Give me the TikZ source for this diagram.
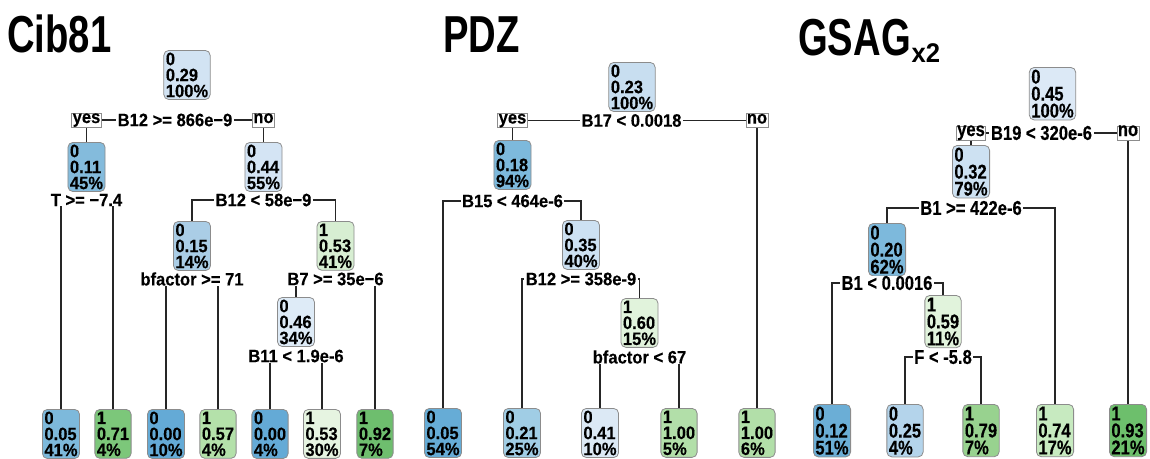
\documentclass[tikz,border=0pt]{standalone}
\usepackage{fontspec}
\newfontfamily\nf[FakeStretch=0.92,FakeBold=0.3]{Liberation Sans}
\newfontfamily\gf[FakeStretch=0.83,FakeBold=0.3]{Liberation Sans}
\newfontfamily\tf[FakeStretch=0.735]{Liberation Sans}
\newfontfamily\subf[FakeStretch=0.95]{Liberation Sans}
\usetikzlibrary{backgrounds}
% Cib81 colours
\definecolor{ca0}{HTML}{D2E3F3}\definecolor{ca1}{HTML}{84BBDC}\definecolor{ca2}{HTML}{D4E4F4}
\definecolor{ca3}{HTML}{AACDE6}\definecolor{ca4}{HTML}{D7EED2}\definecolor{ca5}{HTML}{DEEBF7}
\definecolor{ca6}{HTML}{7DB9DB}\definecolor{ca7}{HTML}{7CC77A}\definecolor{ca8}{HTML}{64AAD6}
\definecolor{ca9}{HTML}{B4E1AA}\definecolor{ca10}{HTML}{64AAD6}\definecolor{ca11}{HTML}{E6F4E1}
\definecolor{ca12}{HTML}{6EBE6E}
% PDZ colours
\definecolor{cb0}{HTML}{C8DEF0}\definecolor{cb1}{HTML}{7DB9DC}\definecolor{cb2}{HTML}{CDE1F2}
\definecolor{cb3}{HTML}{E1F3DC}\definecolor{cb4}{HTML}{66ACD6}\definecolor{cb5}{HTML}{A0CDE5}
\definecolor{cb6}{HTML}{DCE9F5}\definecolor{cb7}{HTML}{B2DFA9}\definecolor{cb8}{HTML}{B2DFA9}
% GSAG colours
\definecolor{cg0}{HTML}{DCE9F6}\definecolor{cg1}{HTML}{CDE1F2}\definecolor{cg2}{HTML}{7DB9DC}
\definecolor{cg3}{HTML}{E1F3DC}\definecolor{cg4}{HTML}{6BAED6}\definecolor{cg5}{HTML}{B4D4EB}
\definecolor{cg6}{HTML}{98D28F}\definecolor{cg7}{HTML}{C7EAC0}\definecolor{cg8}{HTML}{6DBF6C}
\begin{document}
\begin{tikzpicture}[x=1pt,y=-1pt,
  nfont/.style={font=\nf\bfseries\upshape\fontsize{18}{16}\selectfont},
  gfont/.style={font=\gf\bfseries\upshape\fontsize{20}{17}\selectfont},
  bx/.style={draw=black!45, line width=0.8pt, rounded corners=5pt, align=left,
             inner xsep=2pt, inner ysep=2.2pt, anchor=north},
  lb/.style={fill=white, inner xsep=1.5pt, inner ysep=0.3pt},
  yn/.style={draw=black!45, line width=0.8pt, fill=white, inner xsep=0.8pt,
             inner ysep=0.5pt, text height=9.5pt, text depth=3.4pt},
  ed/.style={draw=black!85, line width=1.3pt},
  ttl/.style={font=\tf\bfseries\upshape\fontsize{52}{52}\selectfont, anchor=base west, inner sep=0pt}]
\useasboundingbox (0,0) rectangle (1150,458);

% ---------------- Cib81 ----------------
\node[ttl] (t1) at (7,52) {Cib81};
\begin{scope}[nfont]
\node[bx, fill=ca0] (a0) at (187,50) {0\\0.29\\100\%};
\node[yn] (ay) at (86.5,120) {yes};
\node[yn] (an) at (263.5,120) {no};
\node[lb] (as0) at (175,120) {B12 >= 866e−9};
\node[bx, fill=ca1] (a1) at (86.5,142) {0\\0.11\\45\%};
\node[bx, fill=ca2] (a2) at (263.5,142) {0\\0.44\\55\%};
\node[lb] (as1) at (86.5,200) {T >= −7.4};
\node[lb] (as2) at (263.5,200) {B12 < 58e−9};
\node[bx, fill=ca3] (a3) at (192,221) {0\\0.15\\14\%};
\node[bx, fill=ca4] (a4) at (335.5,221) {1\\0.53\\41\%};
\node[lb] (as3) at (192,279) {bfactor >= 71};
\node[lb] (as4) at (335.5,279) {B7 >= 35e−6};
\node[bx, fill=ca5] (a5) at (296,297) {0\\0.46\\34\%};
\node[lb] (as5) at (296,356) {B11 < 1.9e-6};
\node[bx, fill=ca6] (a6) at (61,409) {0\\0.05\\41\%};
\node[bx, fill=ca7] (a7) at (113,409) {1\\0.71\\4\%};
\node[bx, fill=ca8] (a8) at (166,409) {0\\0.00\\10\%};
\node[bx, fill=ca9] (a9) at (218,409) {1\\0.57\\4\%};
\node[bx, fill=ca10] (a10) at (270,409) {0\\0.00\\4\%};
\node[bx, fill=ca11] (a11) at (322,409) {1\\0.53\\30\%};
\node[bx, fill=ca12] (a12) at (375,409) {1\\0.92\\7\%};
\end{scope}

% ---------------- PDZ ----------------
\node[ttl] (t2) at (443,52) {PDZ};
\begin{scope}[nfont]
\node[bx, fill=cb0] (b0) at (632,62) {0\\0.23\\100\%};
\node[yn] (by) at (512.5,120.5) {yes};
\node[yn] (bn) at (757,120.5) {no};
\node[lb] (bs0) at (631.5,120.5) {B17 < 0.0018};
\node[bx, fill=cb1] (b1) at (512.5,140) {0\\0.18\\94\%};
\node[lb] (bs1) at (512.5,201) {B15 < 464e-6};
\node[bx, fill=cb2] (b2) at (581,220) {0\\0.35\\40\%};
\node[lb] (bs2) at (581,279) {B12 >= 358e-9};
\node[bx, fill=cb3] (b3) at (639.5,298) {1\\0.60\\15\%};
\node[lb] (bs3) at (639.5,357) {bfactor < 67};
\node[bx, fill=cb4] (b4) at (443,408) {0\\0.05\\54\%};
\node[bx, fill=cb5] (b5) at (522,408) {0\\0.21\\25\%};
\node[bx, fill=cb6] (b6) at (600,408) {0\\0.41\\10\%};
\node[bx, fill=cb7] (b7) at (679,408) {1\\1.00\\5\%};
\node[bx, fill=cb8] (b8) at (757,408) {1\\1.00\\6\%};
\end{scope}

% ---------------- GSAG ----------------
\node[ttl] (t3) at (798,55) {GSAG};
\node[font=\subf\bfseries\upshape\fontsize{27}{27}\selectfont, anchor=base west, inner sep=0pt] (t3s) at ([xshift=0.5pt,yshift=-7pt]t3.base east) {x2};
\begin{scope}[gfont]
\node[bx, fill=cg0] (g0) at (1052.5,67) {0\\0.45\\100\%};
\node[yn] (gy) at (971,133) {yes};
\node[yn] (gn) at (1128,133) {no};
\node[lb] (gs0) at (1041.5,133) {B19 < 320e-6};
\node[bx, fill=cg1] (g1) at (971,145) {0\\0.32\\79\%};
\node[lb] (gs1) at (971,208) {B1 >= 422e-6};
\node[bx, fill=cg2] (g2) at (887,223) {0\\0.20\\62\%};
\node[lb] (gs2) at (887,283) {B1 < 0.0016};
\node[bx, fill=cg3] (g3) at (943,295) {1\\0.59\\11\%};
\node[lb] (gs3) at (943,357) {F < -5.8};
\node[bx, fill=cg4] (g4) at (832,404) {0\\0.12\\51\%};
\node[bx, fill=cg5] (g5) at (905,404) {0\\0.25\\4\%};
\node[bx, fill=cg6] (g6) at (981,404) {1\\0.79\\7\%};
\node[bx, fill=cg7] (g7) at (1055,404) {1\\0.74\\17\%};
\node[bx, fill=cg8] (g8) at (1128,404) {1\\0.93\\21\%};
\end{scope}

% ---------------- connectors ----------------
\begin{scope}[on background layer]
\draw[ed] (ay) -- (an);
\draw[ed] (ay) -- (a1);
\draw[ed] (an) -- (a2);
\draw[ed] (a6.north) |- (as1.center) -| (a7.north);
\draw[ed] (a3.north) |- (as2.center) -| (a4.north);
\draw[ed] (a8.north) |- (as3.center) -| (a9.north);
\draw[ed] (a5.north) |- (as4.center) -| (a12.north);
\draw[ed] (a10.north) |- (as5.center) -| (a11.north);

\draw[ed] (by) -- (bn);
\draw[ed] (by) -- (b1);
\draw[ed] (bn) -- (b8);
\draw[ed] (b4.north) |- (bs1.center) -| (b2.north);
\draw[ed] (b5.north) |- (bs2.center) -| (b3.north);
\draw[ed] (b6.north) |- (bs3.center) -| (b7.north);

\draw[ed] (gy) -- (gn);
\draw[ed] (gy) -- (g1);
\draw[ed] (gn) -- (g8);
\draw[ed] (g2.north) |- (gs1.center) -| (g7.north);
\draw[ed] (g4.north) |- (gs2.center) -| (g3.north);
\draw[ed] (g5.north) |- (gs3.center) -| (g6.north);
\end{scope}
\end{tikzpicture}
\end{document}
